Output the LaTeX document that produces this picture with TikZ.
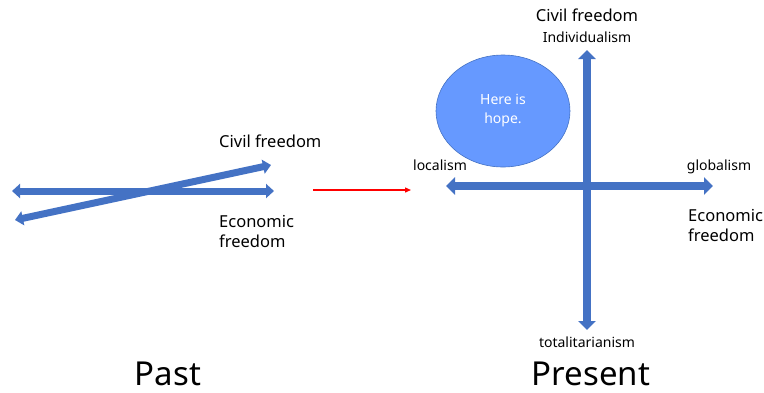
\documentclass[tikz,border=0pt]{standalone}
\usepackage{fontspec}
\setmainfont{Noto Sans}
\usetikzlibrary{arrows.meta,shapes.geometric}
\definecolor{ablue}{HTML}{4472C4}
\definecolor{efill}{HTML}{6699FF}
\tikzset{
  thinarrow/.style={ablue, line width=7pt, {Triangle[length=8pt,width=14pt]}-{Triangle[length=8pt,width=14pt]}},
  bigarrow/.style={ablue, line width=8pt, {Triangle[length=9pt,width=17pt]}-{Triangle[length=9pt,width=17pt]}},
  lbl/.style={font=\fontsize{16.5}{20}\selectfont, align=left, inner sep=0pt},
  small/.style={font=\fontsize{14}{16}\selectfont, inner sep=0pt},
  title/.style={font=\fontsize{33}{38}\selectfont, inner sep=0pt},
}
\begin{document}
\begin{tikzpicture}[x=1pt,y=-1pt]
\useasboundingbox (0,0) rectangle (764,392);
% Past
\coordinate (h1) at (12,191);
\coordinate (h2) at (274,191);
\coordinate (s1) at (15,220);
\coordinate (s2) at (271,165);
\draw[thinarrow] (h1) -- (h2);
\draw[thinarrow] (s1) -- (s2);
\node[lbl, anchor=west] (civ1) at (219,141) {Civil freedom};
\node[lbl, anchor=north west] (eco1) at (219,215) {Economic\\freedom};
\node[title, anchor=base] (past) at (168,385) {Past};
% red arrow
\coordinate (r1) at (313,190);
\coordinate (r2) at (411,190);
\draw[red, line width=1.3pt, -{Triangle[length=6pt,width=5pt]}] (r1) -- (r2);
% Present
\node[draw=ablue, fill=efill, line width=0.6pt, ellipse, text=white,
      inner sep=0pt, minimum width=134pt, minimum height=112pt,
      font=\fontsize{14}{19}\selectfont, align=center] (hope) at (503,111) {Here is\\hope.};
\coordinate (v1) at (587,50);
\coordinate (v2) at (587,330);
\coordinate (g1) at (446,186);
\coordinate (g2) at (713,186);
\draw[bigarrow] (g1) -- (g2);
\draw[bigarrow] (v1) -- (v2);
\node[lbl] (civ2) at (587,15) {Civil freedom};
\node[small] (ind) at (587,37) {Individualism};
\node[small] (loc) at (440,165) {localism};
\node[small] (glob) at (719,167) {globalism};
\node[lbl, anchor=north west] (eco2) at (688,209) {Economic\\freedom};
\node[small] (tot) at (587,342) {totalitarianism};
\node[title, anchor=base] (pres) at (591,385) {Present};
\end{tikzpicture}
\end{document}
